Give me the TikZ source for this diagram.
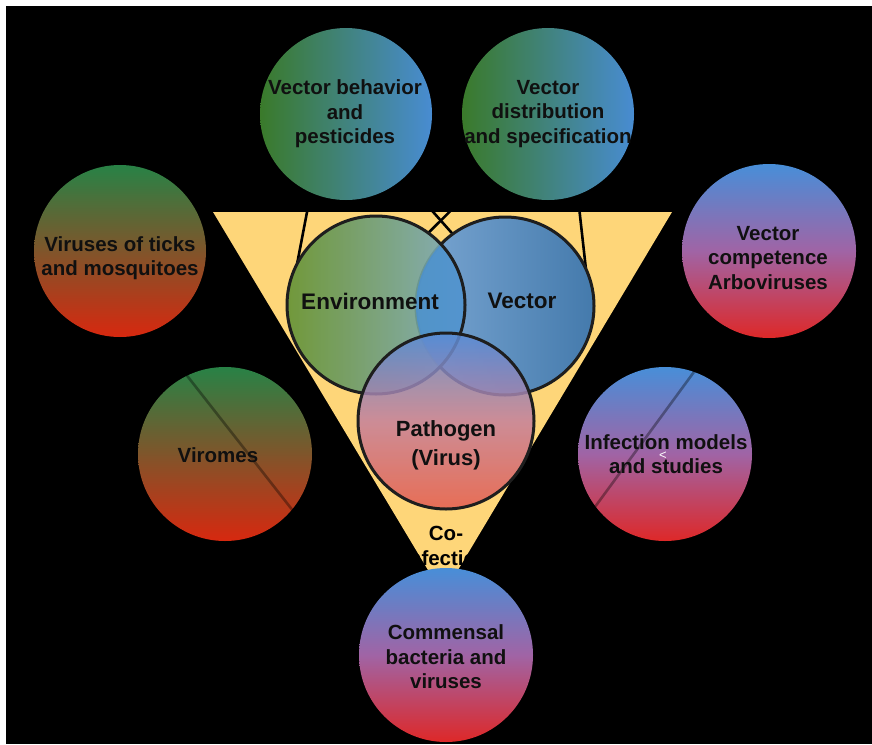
\documentclass[tikz,border=0pt]{standalone}
\usepackage{fontspec}
\setmainfont{Liberation Sans}
\definecolor{tri}{RGB}{254,214,121}
\definecolor{grn}{RGB}{58,122,42}
\definecolor{blu}{RGB}{72,140,210}
\definecolor{vgrn}{RGB}{40,130,70}
\definecolor{vred}{RGB}{215,40,15}
\definecolor{bblu}{RGB}{72,142,216}
\definecolor{bmid}{RGB}{160,100,165}
\definecolor{bred}{RGB}{222,40,40}
\definecolor{envl}{RGB}{98,146,52}
\definecolor{envr}{RGB}{122,170,196}
\definecolor{vecl}{RGB}{122,166,210}
\definecolor{vecr}{RGB}{68,122,172}
\definecolor{ovl}{RGB}{74,144,210}
\definecolor{patt}{RGB}{88,140,214}
\definecolor{patm}{RGB}{196,128,156}
\definecolor{patb}{RGB}{228,92,80}
\definecolor{txtc}{RGB}{16,16,16}
\definecolor{edge}{RGB}{30,30,30}
\begin{document}
\begin{tikzpicture}[x=1pt,y=-1pt,
  outer/.style={circle, draw=none, inner sep=0pt, minimum size=174pt},
  gb/.style={outer, left color=grn, right color=blu},
  gr/.style={outer, top color=vgrn, bottom color=vred},
  br/.style={outer, top color=bblu, bottom color=bred, middle color=bmid},
  inner/.style={circle, inner sep=0pt, minimum size=178pt},
  rim/.style={draw=edge, line width=3pt},
  conn/.style={draw=black, line width=2.6pt},
  lab/.style={align=center, text=txtc, inner sep=0pt, font=\bfseries\fontsize{20.5}{24.5}\selectfont},
  big/.style={align=center, text=txtc, inner sep=0pt, font=\bfseries\fontsize{22.5}{28}\selectfont}]
\useasboundingbox (0,0) rectangle (872,744);
\fill[white] (0,0) rectangle (872,744);
\fill[black] (6,6) rectangle (872,744);

% triangle
\coordinate (ta) at (213,212);
\coordinate (tb) at (672,212);
\coordinate (tc) at (443,595);
\fill[tri] (ta) -- (tb) -- (tc) -- cycle;

% node positions
\node[outer] (vb) at (346,114) {};
\node[outer] (vd) at (548,114) {};
\node[outer] (ticks) at (120,251) {};
\node[outer] (vc) at (769,251) {};
\node[outer] (vir) at (225,454) {};
\node[outer] (inf) at (665,454) {};
\node[inner] (env) at (376,305) {};
\node[inner] (vec) at (505,306) {};
\node[inner] (pat) at (446,421) {};

% connectors (black, visible only over the triangle)
\draw[conn] (vb.246) -- (env.152);
\draw[conn] (vb) -- (vec.126);
\draw[conn] (vd) -- (env.54);
\draw[conn] (vd.290) -- (vec.25);

% outer circles
\shade[left color=grn, right color=blu] (vb.center) circle (86pt);
\shade[left color=grn, right color=blu] (vd.center) circle (86pt);
\shade[top color=vgrn, bottom color=vred] (ticks.center) circle (86pt);
\shade[top color=bblu, bottom color=bred, middle color=bmid] (vc.center) circle (87pt);
\shade[top color=vgrn, bottom color=vred] (vir.center) circle (87pt);
\shade[top color=bblu, bottom color=bred, middle color=bmid] (inf.center) circle (87pt);

% faint connectors seen through two circles
\coordinate (vend) at (330,558);
\coordinate (iend) at (570,541);
\draw[conn, opacity=0.35] (ticks.-68) -- (vend);
\draw[conn, opacity=0.35] (vc.241) -- (iend);

% central fills
\shade[left color=vecl, right color=vecr] (vec.center) circle (89pt);
\draw[rim] (vec.center) circle (89pt);
\shade[left color=envl, right color=envr, fill opacity=0.9] (env.center) circle (89pt);
\begin{scope}
  \clip (env.center) circle (89pt);
  \fill[ovl, fill opacity=0.8] (vec.center) circle (89pt);
\end{scope}
\draw[rim] (env.center) circle (89pt);
\shade[top color=patt, bottom color=patb, middle color=patm, fill opacity=0.85] (pat.center) circle (88pt);
\draw[rim] (pat.center) circle (88pt);

% co-infection text then bottom circle
\node[lab, text=black] (coi) at (446,546) {Co-\\infection};
\node[br] (com) at (446,655) {};

% labels
\node[lab] (tvb) at (345,114) {Vector behavior\\and\\pesticides};
\node[lab] (tvd) at (548,114) {Vector\\distribution\\and specification};
\node[lab] (tticks) at (120,258) {Viruses of ticks\\and mosquitoes};
\node[lab] (tvc) at (768,258) {Vector\\competence\\Arboviruses};
\node[lab] (tvir) at (218,455) {Viromes};
\node[lab] (tinf) at (666,454) {Infection models\\and studies};
\node[lab] (tcom) at (446,657) {Commensal\\bacteria and\\viruses};
\node[big] (tenv) at (370,301) {Environment};
\node[big] (tvec) at (522,301) {Vector};
\node[lab, font=\bfseries\fontsize{22}{29}\selectfont] (tpat) at (446,445) {Pathogen\\(Virus)};
\node[text=white, inner sep=0pt, font=\fontsize{13}{13}\selectfont] (lt) at (663,456) {<};
\end{tikzpicture}
\end{document}
